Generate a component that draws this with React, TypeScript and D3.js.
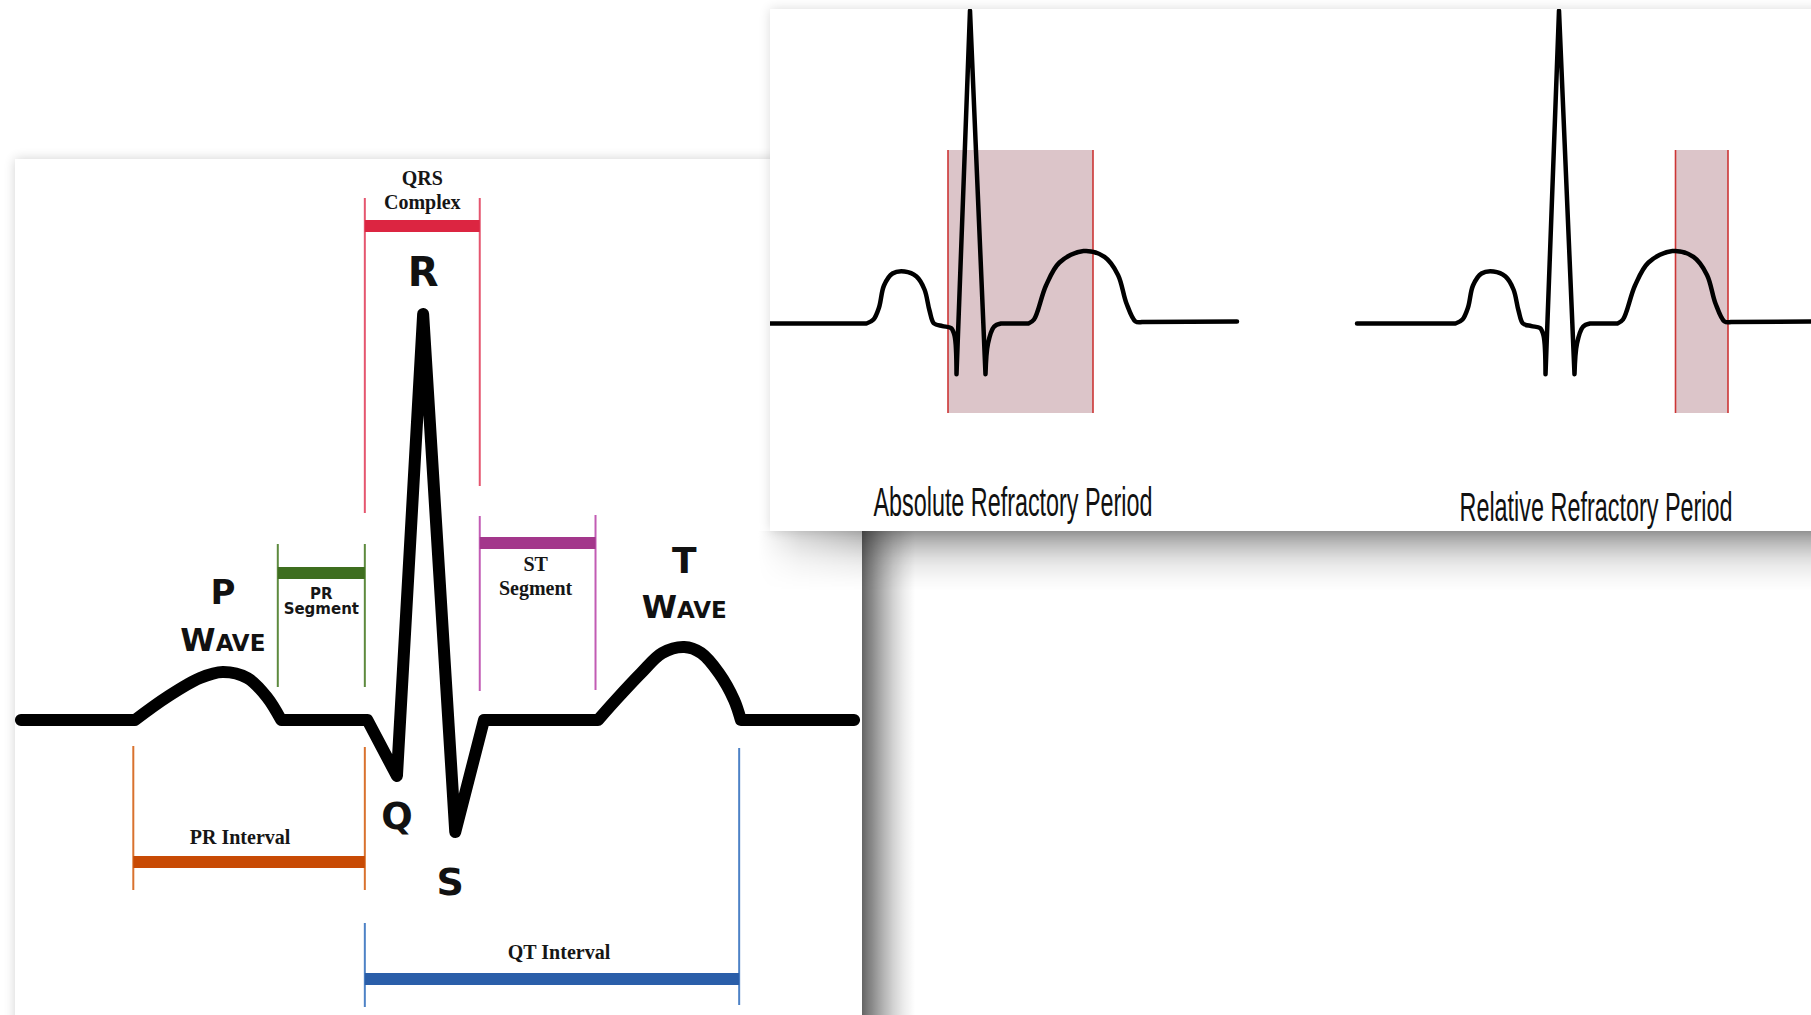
import React from 'react';
import * as d3 from 'd3';

const W = 1811;
const H = 1015;

// ---------- Left panel ECG (time in ms, amplitude in mV) ----------
const leftBaseStart: [number, number][] = [[7, 0], [142, 0]];
const leftP: [number, number][] = [[142, 0], [180, 0.092], [219, 0.168], [246, 0.192], [275, 0.168], [298, 0.092], [315, 0]];
const leftQRS: [number, number][] = [[315, 0], [417, 0], [452, -0.224], [483, 1.624], [521, -0.448], [555, 0], [690, 0]];
const leftT: [number, number][] = [[690, 0], [711, 0.08], [741, 0.188], [766, 0.268], [792, 0.292], [812, 0.268], [833, 0.188], [851, 0.08], [859, 0]];
const leftBaseEnd: [number, number][] = [[859, 0], [993, 0]];

// Interval brackets (ms)
const bracketLabels: string[][] = [['QRS', 'Complex'], ['PR', 'Segment'], ['ST', 'Segment'], ['PR Interval'], ['QT Interval']];
const bracketStart = [414, 311, 550, 140, 414];
const bracketEnd = [550, 414, 687, 414, 857];

// Wave letters and the time they sit over
const waveLetters = ['P', 'R', 'Q', 'S', 'T'];
const waveTimes = [246, 483, 452, 515, 792];

// ---------- Right panel ECG (one beat, ms / mV) ----------
const rBaseStart: [number, number][] = [[-10, 0], [187, 0]];
const rP: [number, number][] = [[187, 0], [201, 0.02], [212, 0.08], [222, 0.19], [239, 0.25], [263, 0.26], [287, 0.235], [303, 0.17], [313, 0.065], [322, 0], [339, -0.013], [356, -0.023], [363, -0.06], [367, -0.254]];
const rQRS: [number, number][] = [[367, -0.254], [394, 1.564], [425, -0.254]];
const rS: [number, number][] = [[425, -0.254], [430, -0.1], [442, -0.016], [456, 0]];
const rST: [number, number][] = [[456, 0], [511, 0]];
const rT: [number, number][] = [[511, 0], [522, 0.02], [546, 0.19], [573, 0.305], [621, 0.3625], [663, 0.333], [690, 0.243], [707, 0.1], [725, 0.01], [738, 0.0075]];
const rEnd: [number, number][] = [[738, 0.0075], [928, 0.01]];
const beatOffsets = [0, 1178];

const periodNames = ['Absolute Refractory Period', 'Relative Refractory Period'];
const periodStart = [350, 1178 + 627];
const periodEnd = [640, 1178 + 732];

// ---------- layout & style ----------
const leftPanel = { x: 15, y: 159, x2: 862 };
const rightPanel = { x: 770, y: 9, y2: 531 };

const bracketLayout = [
  { barY: 226, lt: [198, 513], rt: [198, 486], ys: [185, 209], dx: 0, sans: false, bar: '#dc2541', tick: '#e5566f' },
  { barY: 573, lt: [544, 687], rt: [544, 687], ys: [599, 614], dx: 0, sans: true, bar: '#3e6e1f', tick: '#5d8a3e' },
  { barY: 543, lt: [516, 691], rt: [515, 690], ys: [571, 595], dx: -2, sans: false, bar: '#a3378b', tick: '#c25cb4' },
  { barY: 862, lt: [746, 890], rt: [747, 890], ys: [844], dx: -9, sans: false, bar: '#c84a04', tick: '#d9722e' },
  { barY: 979, lt: [923, 1007], rt: [748, 1005], ys: [959], dx: 7, sans: false, bar: '#2a5ea9', tick: '#4d82c6' },
];

const waveLayout = [
  { y: 604, size: 34, wave: 651 },
  { y: 286, size: 40 },
  { y: 829, size: 37 },
  { y: 895, size: 38 },
  { y: 573, size: 36, wave: 618 },
];

const periodLayout = [
  { x: 1013, y: 516, len: 279 },
  { x: 1596, y: 521, len: 273 },
];

const SERIF = "'Liberation Serif', 'Times New Roman', serif";
const SANS = "'DejaVu Sans', 'Verdana', sans-serif";
const NARROW = "'Liberation Sans Narrow', 'Liberation Sans', Arial, sans-serif";

type Seg = { pts: [number, number][]; curve: d3.CurveFactory };

function buildPath(segs: Seg[], x: (v: number) => number, y: (v: number) => number, off = 0): string {
  return segs
    .map((s, i) => {
      const d = d3
        .line<[number, number]>()
        .x((p) => x(p[0] + off))
        .y((p) => y(p[1]))
        .curve(s.curve)(s.pts) as string;
      return i === 0 ? d : d.replace(/^M/, 'L');
    })
    .join('');
}

export default function App() {
  const xL = d3.scaleLinear().domain([0, 1000]).range([15, 860]);
  const yL = d3.scaleLinear().domain([0, 1]).range([720, 470]);
  const xR = d3.scaleLinear().domain([0, 1000]).range([773, 1273]);
  const yR = d3.scaleLinear().domain([0, 1]).range([323.5, 123.5]);

  const cr = d3.curveCatmullRom.alpha(0.5);
  const lin = d3.curveLinear;

  const leftSegs: Seg[] = [
    { pts: leftBaseStart, curve: lin },
    { pts: leftP, curve: cr },
    { pts: leftQRS, curve: lin },
    { pts: leftT, curve: cr },
    { pts: leftBaseEnd, curve: lin },
  ];
  const rightSegs: Seg[] = [
    { pts: rBaseStart, curve: lin },
    { pts: rP, curve: cr },
    { pts: rQRS, curve: lin },
    { pts: rS, curve: cr },
    { pts: rST, curve: lin },
    { pts: rT, curve: cr },
    { pts: rEnd, curve: lin },
  ];

  const leftPath = buildPath(leftSegs, xL, yL);

  return (
    <div style={{ position: 'absolute', left: 0, top: 0, width: W, height: H, overflow: 'hidden' }}>
      <svg width={W} height={H} viewBox={`0 0 ${W} ${H}`} style={{ display: 'block' }}>
        <defs>
          <filter id="soft" x="-10%" y="-10%" width="120%" height="120%">
            <feGaussianBlur stdDeviation="6" />
          </filter>
          <linearGradient id="stripGrad" x1="0" x2="1" y1="0" y2="0">
            <stop offset="0" stopColor="#000" stopOpacity="0.57" />
            <stop offset="0.2" stopColor="#000" stopOpacity="0.45" />
            <stop offset="0.4" stopColor="#000" stopOpacity="0.3" />
            <stop offset="0.6" stopColor="#000" stopOpacity="0.17" />
            <stop offset="0.8" stopColor="#000" stopOpacity="0.07" />
            <stop offset="1" stopColor="#000" stopOpacity="0" />
          </linearGradient>
          <linearGradient id="bottomGrad" x1="0" x2="0" y1="0" y2="1">
            <stop offset="0" stopColor="#000" stopOpacity="0.38" />
            <stop offset="0.15" stopColor="#000" stopOpacity="0.3" />
            <stop offset="0.3" stopColor="#000" stopOpacity="0.21" />
            <stop offset="0.45" stopColor="#000" stopOpacity="0.13" />
            <stop offset="0.6" stopColor="#000" stopOpacity="0.075" />
            <stop offset="0.8" stopColor="#000" stopOpacity="0.03" />
            <stop offset="1" stopColor="#000" stopOpacity="0" />
          </linearGradient>
          <linearGradient id="fadeLeft" gradientUnits="userSpaceOnUse" x1="758" x2="900" y1="0" y2="0">
            <stop offset="0" stopColor="#000" />
            <stop offset="0.3" stopColor="#737373" />
            <stop offset="0.8" stopColor="#d9d9d9" />
            <stop offset="1" stopColor="#fff" />
          </linearGradient>
          <mask id="bottomMask" maskUnits="userSpaceOnUse" x="0" y="0" width={W} height={H}>
            <rect x={740} y={520} width={1100} height={90} fill="url(#fadeLeft)" />
          </mask>
          <clipPath id="rightClip">
            <rect x={rightPanel.x} y={rightPanel.y} width={W - rightPanel.x} height={rightPanel.y2 - rightPanel.y} />
          </clipPath>
        </defs>

        <rect x={0} y={0} width={W} height={H} fill="#ffffff" />

        {/* ---------- LEFT PANEL ---------- */}
        <rect x={leftPanel.x} y={leftPanel.y} width={leftPanel.x2 - leftPanel.x} height={H} fill="#000" opacity={0.18} filter="url(#soft)" />
        <rect x={leftPanel.x} y={leftPanel.y} width={leftPanel.x2 - leftPanel.x} height={H} fill="#ffffff" />
        <rect x={leftPanel.x2} y={leftPanel.y} width={53} height={H} fill="url(#stripGrad)" />

        {/* brackets */}
        {bracketLabels.map((lines, i) => {
          const L = bracketLayout[i];
          const x1 = xL(bracketStart[i]);
          const x2 = xL(bracketEnd[i]);
          const cx = (x1 + x2) / 2 + L.dx;
          return (
            <g key={'b' + i}>
              <line x1={x1} x2={x1} y1={L.lt[0]} y2={L.lt[1]} stroke={L.tick} strokeWidth={2} />
              <line x1={x2} x2={x2} y1={L.rt[0]} y2={L.rt[1]} stroke={L.tick} strokeWidth={2} />
              <rect x={x1} y={L.barY - 6} width={x2 - x1} height={12} fill={L.bar} />
              {lines.map((t, j) => (
                <text
                  key={j}
                  x={cx}
                  y={L.ys[j]}
                  textAnchor="middle"
                  fontFamily={L.sans ? SANS : SERIF}
                  fontWeight="bold"
                  fontSize={L.sans ? 15 : 20}
                  fill="#161616"
                >
                  {t}
                </text>
              ))}
            </g>
          );
        })}

        {/* ECG trace */}
        <path d={leftPath} fill="none" stroke="#000" strokeWidth={12} strokeLinejoin="round" strokeLinecap="round" />

        {/* wave letters */}
        {waveLetters.map((l, i) => {
          const L = waveLayout[i];
          const x = xL(waveTimes[i]);
          return (
            <g key={'w' + i} fontFamily={SANS} fontWeight="bold" fill="#111">
              <text x={x} y={L.y} textAnchor="middle" fontSize={L.size}>
                {l}
              </text>
              {L.wave !== undefined && (
                <text x={x} y={L.wave} textAnchor="middle">
                  <tspan fontSize={32}>W</tspan>
                  <tspan fontSize={23}>AVE</tspan>
                </text>
              )}
            </g>
          );
        })}

        {/* ---------- RIGHT PANEL ---------- */}
        <rect x={rightPanel.x} y={rightPanel.y} width={W} height={rightPanel.y2 - rightPanel.y} fill="#000" opacity={0.14} filter="url(#soft)" />
        <rect x={755} y={rightPanel.y2} width={W} height={60} fill="url(#bottomGrad)" mask="url(#bottomMask)" />
        <rect x={rightPanel.x} y={rightPanel.y} width={W - rightPanel.x} height={rightPanel.y2 - rightPanel.y} fill="#ffffff" />

        <g clipPath="url(#rightClip)">
          {periodNames.map((n, i) => {
            const x1 = xR(periodStart[i]);
            const x2 = xR(periodEnd[i]);
            return (
              <g key={'p' + i}>
                <rect x={x1} y={150} width={x2 - x1} height={263} fill="#dcc5c9" />
                <line x1={x1} x2={x1} y1={150} y2={413} stroke="#cc3535" strokeWidth={1.6} />
                <line x1={x2} x2={x2} y1={150} y2={413} stroke="#cc3535" strokeWidth={1.6} />
              </g>
            );
          })}
          {beatOffsets.map((off, i) => (
            <path
              key={'r' + i}
              d={buildPath(rightSegs, xR, yR, off)}
              fill="none"
              stroke="#000"
              strokeWidth={4.5}
              strokeLinejoin="round"
              strokeLinecap="round"
            />
          ))}
        </g>
        {periodNames.map((n, i) => {
          const L = periodLayout[i];
          return (
            <text
              key={'t' + i}
              x={L.x}
              y={L.y}
              textAnchor="middle"
              fontFamily={NARROW}
              fontSize={40}
              textLength={L.len}
              lengthAdjust="spacingAndGlyphs"
              fill="#111"
            >
              {n}
            </text>
          );
        })}
      </svg>
    </div>
  );
}
